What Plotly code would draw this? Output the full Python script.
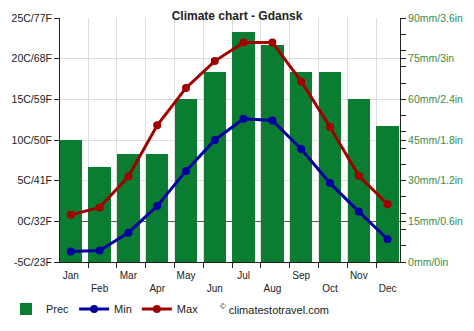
import plotly.graph_objects as go

months = ["Jan", "Feb", "Mar", "Apr", "May", "Jun", "Jul", "Aug", "Sep", "Oct", "Nov", "Dec"]
prec_mm = [45, 35, 40, 40, 60, 70, 85, 80, 70, 70, 60, 50]
temp_min = [-3.7, -3.6, -1.4, 1.9, 6.2, 10.0, 12.6, 12.4, 8.9, 4.7, 1.2, -2.2]
temp_max = [0.8, 1.7, 5.5, 11.8, 16.4, 19.7, 22.0, 22.0, 17.2, 11.6, 5.6, 2.1]

temp_ticks = [-5, 0, 5, 10, 15, 20, 25]
temp_labels = ["-5C/23F", "0C/32F", "5C/41F", "10C/50F", "15C/59F", "20C/68F", "25C/77F"]
prec_ticks = [0, 15, 30, 45, 60, 75, 90]
prec_labels = ["0mm/0in", "15mm/0.6in", "30mm/1.2in", "45mm/1.8in", "60mm/2.4in", "75mm/3in", "90mm/3.6in"]

x = list(range(len(months)))
month_text = [m if i % 2 == 0 else "<br>" + m for i, m in enumerate(months)]

FONT = "Liberation Sans, Arial, sans-serif"
GREEN = "#0a7d32"
BLUE = "#0000a0"
RED = "#a00000"

fig = go.Figure()
fig.add_trace(go.Bar(x=x, y=prec_mm, name="Prec", marker=dict(color=GREEN, line=dict(width=0)),
                     width=0.78, yaxis="y"))
fig.add_trace(go.Scatter(x=x, y=temp_min, name="Min", mode="lines+markers", yaxis="y2",
                         line=dict(color=BLUE, width=3), marker=dict(color=BLUE, size=8)))
fig.add_trace(go.Scatter(x=x, y=temp_max, name="Max", mode="lines+markers", yaxis="y2",
                         line=dict(color=RED, width=3), marker=dict(color=RED, size=8)))

fig.update_layout(
    width=474, height=331,
    margin=dict(l=60, r=74, t=18, b=69, autoexpand=False),
    paper_bgcolor="white", plot_bgcolor="white",
    font=dict(family=FONT, size=10, color="#222"),
    title=dict(text="<b>Climate chart - Gdansk</b>", x=0.5, xref="container", xanchor="center",
               y=1 - 16 / 331, yref="container", yanchor="middle",
               font=dict(family=FONT, size=12, color="#222")),
    bargap=0,
    showlegend=True,
    legend=dict(orientation="h", xref="container", yref="container",
                x=6 / 474, xanchor="left", y=1 - 309 / 331, yanchor="middle",
                font=dict(family=FONT, size=11, color="#222"), bgcolor="rgba(0,0,0,0)",
                itemwidth=30, tracegroupgap=0),
    xaxis=dict(range=[-0.375, 11.431], tickmode="array", tickvals=x, ticktext=month_text,
               ticks="", showgrid=False, zeroline=False, ticklabelstandoff=4,
               showline=True, linecolor="#222", linewidth=1,
               tickfont=dict(family=FONT, size=10, color="#222"),
               minor=dict(tick0=0.6, dtick=1, ticks="outside", ticklen=5, tickcolor="#222",
                          showgrid=True, gridcolor="#dddddd", gridwidth=1)),
    yaxis=dict(range=[0, 90], side="right", tickmode="array", tickvals=prec_ticks, ticktext=prec_labels,
               ticks="outside", ticklen=5, tickcolor="#222", showgrid=False, zeroline=False,
               showline=True, linecolor="#222", linewidth=1,
               tickfont=dict(family=FONT, size=10.5, color="#3c8c46"),
               minor=dict(dtick=6, tick0=0, ticks="outside", ticklen=5, tickcolor="#222", showgrid=False)),
    yaxis2=dict(range=[-5, 25], overlaying="y", side="left", tickmode="array", tickvals=temp_ticks,
                ticktext=temp_labels, ticks="outside", ticklen=5, tickcolor="#222",
                showgrid=True, gridcolor="#dddddd", gridwidth=1,
                zeroline=True, zerolinecolor="#555555", zerolinewidth=1,
                showline=True, linecolor="#222", linewidth=1,
                tickfont=dict(family=FONT, size=10.5, color="#222")),
    annotations=[dict(text="<sup>©</sup> climatestotravel.com", xref="paper", yref="paper",
                      x=(218 - 60) / 340, y=-47 / 244, xanchor="left", yanchor="middle",
                      showarrow=False, font=dict(family=FONT, size=11, color="#222"))],
)

fig.write_html("out.html")
